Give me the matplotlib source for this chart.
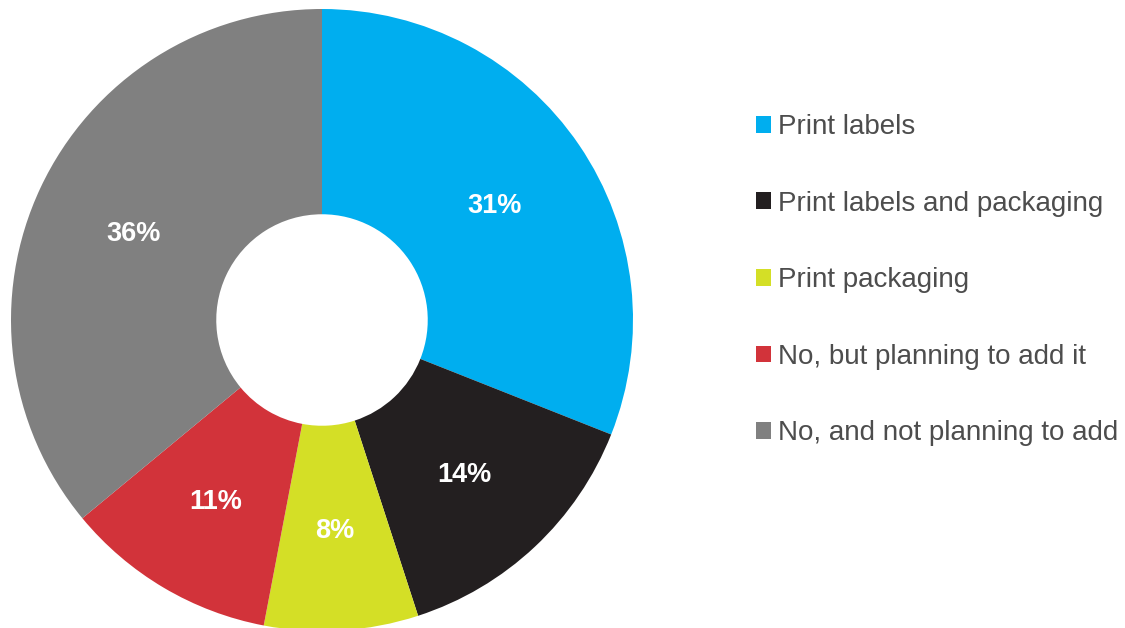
import matplotlib.pyplot as plt

# survey shares
labels = ['Print labels', 'Print labels and packaging', 'Print packaging',
          'No, but planning to add it', 'No, and not planning to add']
shares = [31, 14, 8, 11, 36]
colors = ['#00AEEF', '#231F20', '#D4DF26', '#D2333A', '#808080']

plt.rcParams['font.family'] = ['Liberation Sans', 'DejaVu Sans']

fig = plt.figure(figsize=(11.25, 6.28), dpi=100)
ax = fig.add_axes([322/1125 - 311/1125, (628-320-311)/628, 622/1125, 622/628])

wedges, texts, autotexts = ax.pie(
    shares, colors=colors, startangle=90, counterclock=False,
    radius=1, wedgeprops=dict(width=0.66, linewidth=0),
    autopct='%d%%', pctdistance=0.67,
    textprops=dict(color='white', fontsize=19.5, fontweight='bold'))
for t in autotexts:
    t.set_va('center_baseline')
ax.set_xlim(-1, 1)
ax.set_ylim(-1, 1)
ax.set_aspect('equal')

leg = fig.legend(wedges, labels, loc='upper left', bbox_to_anchor=(745/1125, 1 - 103/628),
                 frameon=False, fontsize=20, handlelength=0.55, handleheight=0.55,
                 handletextpad=0.25, labelspacing=1.82, borderaxespad=0)
for t in leg.get_texts():
    t.set_color('#4d4d4d')

fig.savefig('out.png', dpi=100)
